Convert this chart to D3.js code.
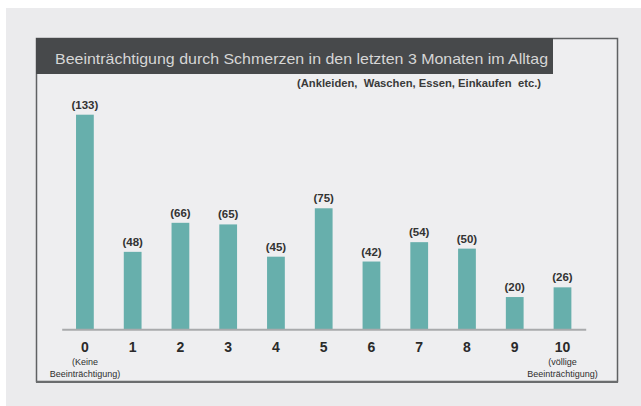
<!DOCTYPE html>
<html><head><meta charset="utf-8">
<script src="https://cdn.jsdelivr.net/npm/d3@7"></script>
<style>
html,body{margin:0;padding:0;background:#fff;}
svg{display:block;font-family:"Liberation Sans",Arial,sans-serif;}
</style></head>
<body>
<svg id="c" width="641" height="406"></svg>
<script>
const categories = ["0","1","2","3","4","5","6","7","8","9","10"];
const values = [133,48,66,65,45,75,42,54,50,20,26];
const valueLabels = ["(133)","(48)","(66)","(65)","(45)","(75)","(42)","(54)","(50)","(20)","(26)"];
const subLabels = {"0":["(Keine","Beeinträchtigung)"],"10":["(völlige","Beeinträchtigung)"]};
const title = "Beeinträchtigung durch Schmerzen in den letzten 3 Monaten im Alltag";
const subtitle = "(Ankleiden,  Waschen, Essen, Einkaufen  etc.)";

const svg = d3.select("#c");
svg.append("rect").attr("x",6).attr("y",8).attr("width",635).attr("height",398).attr("fill","#ebebed");
// box
svg.append("rect").attr("x",36.5).attr("y",38.5).attr("width",581).attr("height",343)
  .attr("fill","#eeeef0").attr("stroke","#5f6163").attr("stroke-width",1.5);
svg.append("line").attr("x1",36).attr("x2",618).attr("y1",382).attr("y2",382).attr("stroke","#6a6c6e").attr("stroke-width",2);
// title bar
svg.append("rect").attr("x",36).attr("y",38).attr("width",517).attr("height",36).attr("fill","#47494b");
svg.append("text").attr("x",55).attr("y",64).attr("fill","#d6d6d6").attr("font-size",15)
  .attr("textLength",493).attr("lengthAdjust","spacingAndGlyphs").text(title);
svg.append("text").attr("x",297).attr("y",86.5).attr("fill","#3a3a3a").attr("font-size",10).attr("font-weight","bold")
  .style("white-space","pre").attr("textLength",244).attr("lengthAdjust","spacingAndGlyphs").text(subtitle);

const x = d3.scaleBand().domain(categories).range([61.7,585.7]).paddingInner(0.628).paddingOuter(0.3);
const y = d3.scaleLinear().domain([0,133]).range([329.3,114.7]);

const g = svg.append("g");
g.selectAll("rect.bar").data(values).join("rect").attr("class","bar")
  .attr("x",(d,i)=>x(categories[i])).attr("width",x.bandwidth())
  .attr("y",d=>y(d)).attr("height",d=>y(0)-y(d)).attr("fill","#67afac");
g.selectAll("text.val").data(values).join("text").attr("class","val")
  .attr("x",(d,i)=>x(categories[i])+x.bandwidth()/2).attr("y",d=>y(d)-6)
  .attr("text-anchor","middle").attr("font-size",11.5).attr("font-weight","bold").attr("fill","#333")
  .text((d,i)=>valueLabels[i]);

// baseline axis
const axis = d3.axisBottom(x).tickSize(0).tickPadding(0).tickFormat(()=>"");
const ag = svg.append("g").attr("transform",`translate(0,${y(0)})`).call(axis);
ag.select(".domain").attr("stroke","#a9aaac").attr("stroke-width",2);
ag.selectAll(".tick").each(function(c){
  const t = d3.select(this);
  t.append("text").attr("y",23).attr("text-anchor","middle").attr("font-size",14).attr("font-weight","bold")
    .attr("fill","#2a2a2a").attr("font-family","Liberation Sans, Arial, sans-serif").text(c);
  (subLabels[c]||[]).forEach((s,k)=>{
    t.append("text").attr("y",35.5+k*12).attr("text-anchor","middle").attr("font-size",9)
      .attr("fill","#2e2e2e").attr("font-family","Liberation Sans, Arial, sans-serif").text(s);
  });
});
</script>
</body></html>
